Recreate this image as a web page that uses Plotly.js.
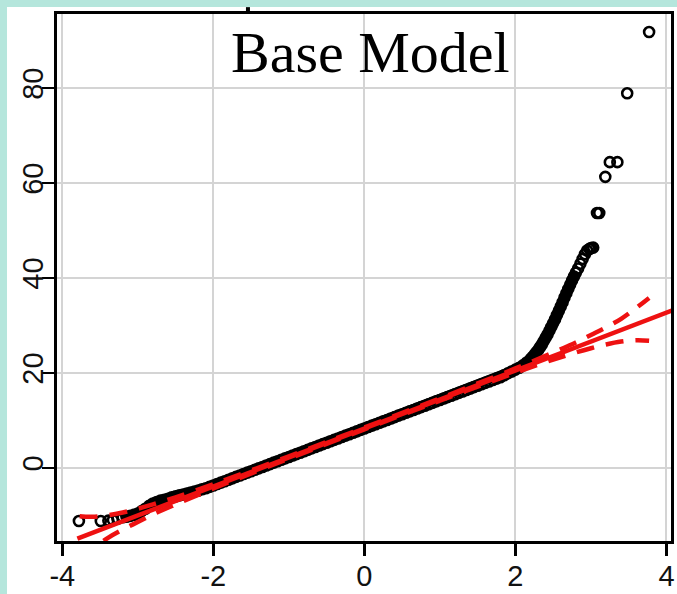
<!DOCTYPE html>
<html>
<head>
<meta charset="utf-8">
<script src="https://cdn.plot.ly/plotly-3.0.1.min.js"></script>
<style>
html, body { margin: 0; padding: 0; background: #b5e6dc; width: 677px; height: 594px; overflow: hidden; }
#chart { position: absolute; left: 7px; top: 7px; width: 670px; height: 587px; }
</style>
</head>
<body>
<div id="chart"></div>
<script>
// Title and tick labels
const titleText = "Base Model";
const xTickVals = [-4, -2, 0, 2, 4];
const yTickVals = [0, 20, 40, 60, 80];

// QQ points (theoretical quantile x, sample quantile y)
// isolated points in the lower tail
const leftTailX = [-3.78, -3.49, -3.39, -3.33, -3.27];
const leftTailY = [-11.2, -11.2, -11.1, -11.0, -10.7];
// dense body of points
const denseX = [
  -3.20, -3.15, -3.10, -3.05, -3.00, -2.95, -2.90, -2.85, -2.80, -2.75, -2.70, -2.65, -2.60, -2.55, -2.50,
  -2.45, -2.40, -2.35, -2.30, -2.25, -2.20, -2.15, -2.10, -2.05, -2.00, -1.95, -1.90, -1.85, -1.80, -1.75,
  -1.70, -1.65, -1.60, -1.55, -1.50, -1.45, -1.40, -1.35, -1.30, -1.25, -1.20, -1.15, -1.10, -1.05, -1.00,
  -0.95, -0.90, -0.85, -0.80, -0.75, -0.70, -0.65, -0.60, -0.55, -0.50, -0.45, -0.40, -0.35, -0.30, -0.25,
  -0.20, -0.15, -0.10, -0.05, 0.00, 0.05, 0.10, 0.15, 0.20, 0.25, 0.30, 0.35, 0.40, 0.45, 0.50,
  0.55, 0.60, 0.65, 0.70, 0.75, 0.80, 0.85, 0.90, 0.95, 1.00, 1.05, 1.10, 1.15, 1.20, 1.25,
  1.30, 1.35, 1.40, 1.45, 1.50, 1.55, 1.60, 1.65, 1.70, 1.75, 1.80, 1.85, 1.90, 1.95, 2.00,
  2.05, 2.10, 2.15, 2.20, 2.225, 2.25, 2.275, 2.30, 2.325, 2.35, 2.375, 2.40, 2.425, 2.45, 2.475,
  2.50, 2.525, 2.55, 2.575, 2.60, 2.625, 2.65, 2.675, 2.70, 2.725, 2.75, 2.775, 2.80];
const denseY = [
  -10.4, -10.3, -10.1, -9.9, -9.6, -9.1, -8.6, -8.0, -7.5, -7.2, -6.9, -6.7, -6.5, -6.2, -6.0,
  -5.8, -5.6, -5.4, -5.2, -5.0, -4.8, -4.5, -4.3, -4.0, -3.7, -3.4, -3.1, -2.8, -2.5, -2.2,
  -1.9, -1.6, -1.3, -1.0, -0.7, -0.4, -0.1, 0.2, 0.5, 0.8, 1.1, 1.4, 1.7, 2.0, 2.3,
  2.6, 2.9, 3.2, 3.5, 3.8, 4.1, 4.4, 4.7, 5.0, 5.3, 5.6, 5.9, 6.2, 6.5, 6.8,
  7.1, 7.4, 7.7, 8.0, 8.3, 8.6, 8.9, 9.2, 9.5, 9.8, 10.1, 10.4, 10.7, 11.0, 11.3,
  11.6, 11.9, 12.2, 12.5, 12.8, 13.1, 13.4, 13.7, 14.0, 14.3, 14.6, 14.9, 15.2, 15.5, 15.8,
  16.1, 16.4, 16.7, 17.0, 17.3, 17.6, 17.9, 18.2, 18.5, 18.8, 19.1, 19.5, 19.9, 20.3, 20.7,
  21.1, 21.6, 22.2, 22.9, 23.3, 23.8, 24.3, 24.8, 25.4, 26.0, 26.7, 27.4, 28.1, 28.9, 29.7,
  30.5, 31.3, 32.2, 33.1, 34.0, 34.9, 35.9, 36.8, 37.7, 38.6, 39.5, 40.3, 41.1];
// sparser points in the upper tail
const rightTailX = [2.83, 2.86, 2.89, 2.92, 2.95, 2.98, 3.00, 3.03, 3.08, 3.11, 3.19, 3.25, 3.35, 3.48, 3.77];
const rightTailY = [42.0, 43.0, 44.0, 45.0, 45.8, 46.1, 46.3, 46.4, 53.7, 53.7, 61.3, 64.4, 64.4, 78.9, 91.8];

// Reference line (solid red)
const refX = [-3.8, 4.1];
const refY = [-14.9, 33.3];

// Confidence envelope (dashed red)
const bandX = [-3.77, -3.6, -3.4, -3.2, -3.0, -2.8, -2.5, -2.0, -1.0, 0, 1.0, 2.0, 2.5, 2.8, 3.0, 3.2, 3.4, 3.6, 3.77];
const bandUpper = [-10.2, -10.3, -10.0, -9.4, -8.6, -7.7, -6.2, -3.45, 2.45, 8.5, 14.65, 20.95, 24.3, 26.4, 28.0, 29.6, 31.4, 33.7, 35.8];
const bandLower = [-19.2, -17.1, -14.8, -13.0, -11.4, -9.8, -7.7, -4.35, 1.95, 8.1, 14.15, 20.05, 22.8, 24.3, 25.2, 26.0, 26.6, 26.9, 26.8];

const red = '#ee1111';
const allX = leftTailX.concat(denseX, rightTailX);
const allY = leftTailY.concat(denseY, rightTailY);
const traces = [
  { x: denseX, y: denseY, type: 'scatter', mode: 'lines',
    line: { color: '#000', width: 9 }, hoverinfo: 'skip' },
  { x: allX, y: allY, type: 'scatter', mode: 'markers',
    marker: { symbol: 'circle-open', size: 10, color: '#000', line: { width: 2.6, color: '#000' } },
    hoverinfo: 'skip' },
  { x: refX, y: refY, type: 'scatter', mode: 'lines',
    line: { color: red, width: 4.5 }, hoverinfo: 'skip' },
  { x: bandX, y: bandUpper, type: 'scatter', mode: 'lines',
    line: { color: red, width: 4.5, dash: '18px,12px', shape: 'spline' }, hoverinfo: 'skip' },
  { x: bandX, y: bandLower, type: 'scatter', mode: 'lines',
    line: { color: red, width: 4.5, dash: '18px,12px', shape: 'spline' }, hoverinfo: 'skip' }
];

const axisCommon = {
  showline: true, mirror: true, linecolor: '#000', linewidth: 3,
  ticks: 'outside', ticklen: 12, tickwidth: 2.5, tickcolor: '#000',
  showgrid: true, gridcolor: '#d4d4d4', gridwidth: 2,
  zeroline: false,
  tickfont: { family: 'Liberation Sans, Arial, sans-serif', size: 29, color: '#111' }
};

const layout = {
  width: 670, height: 587,
  margin: { l: 50, r: 6, t: 7, b: 53 },
  paper_bgcolor: '#ffffff', plot_bgcolor: '#ffffff',
  showlegend: false,
  xaxis: Object.assign({}, axisCommon, { range: [-4.07, 4.06], tickvals: xTickVals, ticktext: xTickVals.map(String), ticklabelstandoff: -5 }),
  yaxis: Object.assign({}, axisCommon, { range: [-15.4, 95.6], tickvals: yTickVals, ticktext: yTickVals.map(String), tickangle: -90, ticklabelstandoff: -13 }),
  annotations: [{
    text: titleText, xref: 'paper', yref: 'paper', x: 0.51, y: 0.926,
    xanchor: 'center', yanchor: 'middle', showarrow: false,
    font: { family: 'Liberation Serif, Times New Roman, serif', size: 58, color: '#000' }
  }],
  shapes: [{
    type: 'line', xref: 'paper', yref: 'paper', x0: 0.311, x1: 0.311, y0: 1.0, y1: 1.013,
    line: { color: '#000', width: 4 }
  }]
};

Plotly.newPlot('chart', traces, layout, { staticPlot: true, displayModeBar: false });
</script>
</body>
</html>
